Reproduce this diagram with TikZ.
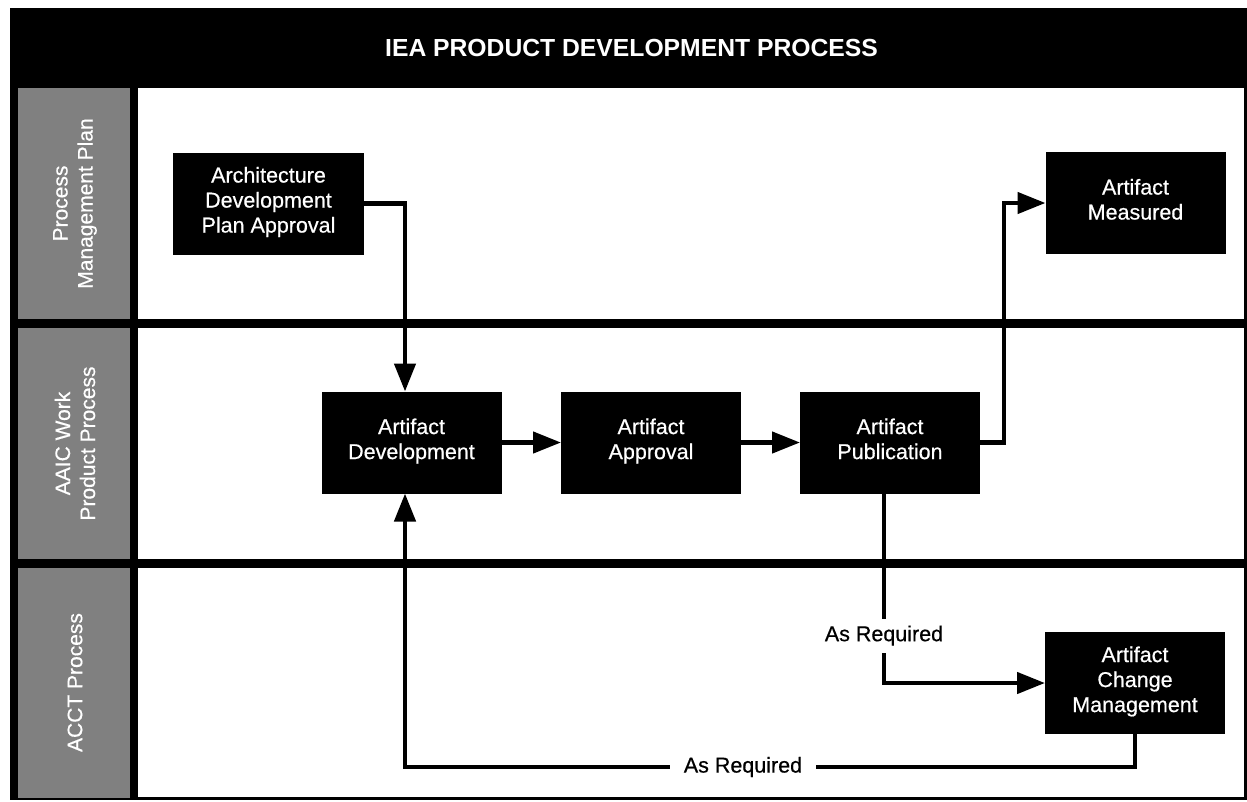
\documentclass[tikz,border=0pt]{standalone}
\usepackage{fontspec}
\setmainfont{Liberation Sans}
\newfontfamily\medfont{Liberation Sans}[FakeBold=0.5]
\usetikzlibrary{arrows.meta,calc}
\definecolor{lanegray}{RGB}{128,128,128}
\begin{document}
\begin{tikzpicture}[x=1pt,y=-1pt,
  box/.style={fill=black, text=white, minimum width=180pt, minimum height=102pt, align=center, font=\medfont\fontsize{21.5}{25}\selectfont, inner sep=0pt, outer sep=0pt, execute at begin node={\rule{0pt}{24pt}}, execute at end node={\rule[-7.5pt]{0pt}{7.5pt}}},
  conn/.style={line width=4.5pt, draw=black},
  arr/.style={conn, -{Triangle[length=28pt,width=21pt]}},
  lab/.style={fill=white, font=\medfont\fontsize{21.5}{25}\selectfont, inner xsep=14pt, inner ysep=7pt},
  lane/.style={text=white, rotate=90, align=center, font=\medfont\fontsize{21}{25}\selectfont},
]
\useasboundingbox (0,0) rectangle (1247,801);
\fill[white] (0,0) rectangle (1247,801);
\fill[black] (10,8) rectangle (1247,800);
% lane label columns
\fill[lanegray] (18,88) rectangle (130,319);
\fill[lanegray] (18,328) rectangle (130,559);
\fill[lanegray] (18,568) rectangle (130,798);
% lane bodies
\fill[white] (138,88) rectangle (1244,319);
\fill[white] (138,328) rectangle (1244,559);
\fill[white] (138,568) rectangle (1244,797);

\node[text=white, font=\bfseries\fontsize{24.7}{28}\selectfont] (title) at (631.5,48) {IEA PRODUCT DEVELOPMENT PROCESS};

\node[lane] (l1) at (75,203.5) {Process\\Management Plan};
\node[lane] (l2) at (75,443.5) {AAIC Work\\Product Process};
\node[lane] (l3) at (75,682.5) {ACCT Process};

\node[box, minimum width=191pt] (arch) at (268.5,203.5) {Architecture\\Development\\Plan Approval};
\node[box] (meas) at (1135.5,203) {Artifact\\Measured};
\node[box] (dev) at (411.5,442.5) {Artifact\\Development};
\node[box] (appr) at (651,442.5) {Artifact\\Approval};
\node[box] (pub) at (890,442.5) {Artifact\\Publication};
\node[box] (chg) at (1135,683) {Artifact\\Change\\Management};

\coordinate (devN) at ([xshift=-6.5pt]dev.north);
\coordinate (devS) at ([xshift=-6.5pt]dev.south);
\coordinate (pubS) at ([xshift=-6pt]pub.south);
\coordinate (k1) at (1004,0);
\coordinate (bot) at (0,767);

\draw[arr] (arch.east) -| (devN);
\draw[arr] (dev) -- (appr);
\draw[arr] (appr) -- (pub);
\draw[arr] (pub.east) -- (pub.east -| k1) |- (meas.west);
\draw[arr] (pubS) -- node[lab, pos=0.75] (ar1) {As Required} (pubS |- chg.west) -- (chg.west);
\draw[arr] (chg.south) -- (chg.south |- bot) -- node[lab, pos=0.537] (ar2) {As Required} (devS |- bot) -- (devS);
\end{tikzpicture}
\end{document}
